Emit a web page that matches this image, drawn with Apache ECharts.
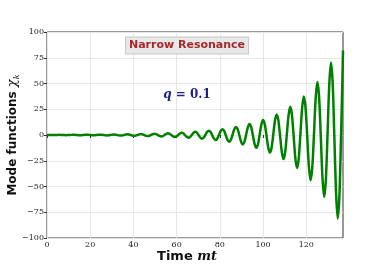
<!DOCTYPE html>
<html>
<head>
<meta charset="utf-8">
<script src="https://cdn.jsdelivr.net/npm/echarts@6/dist/echarts.min.js"></script>
<style>
html,body{margin:0;padding:0;background:#fff;}
#chart{width:382px;height:268px;}
</style>
</head>
<body>
<div id="chart"></div>
<script>
// Time mt (eight samples per oscillation)
const times = [0, 1.02,
  1.80, 2.59, 3.38, 4.16,   4.95, 5.73, 6.52, 7.31,   8.09, 8.88, 9.66, 10.45,   11.23, 12.02, 12.80, 13.59,
  14.37, 15.16, 15.95, 16.73,   17.52, 18.30, 19.09, 19.87,   20.66, 21.44, 22.23, 23.02,   23.80, 24.59, 25.37, 26.16,
  26.94, 27.73, 28.51, 29.30,   30.09, 30.87, 31.66, 32.44,   33.23, 34.01, 34.80, 35.58,   36.37, 37.15, 37.94, 38.72,
  39.51, 40.29, 41.08, 41.87,   42.65, 43.44, 44.22, 45.01,   45.79, 46.58, 47.36, 48.15,   48.94, 49.72, 50.51, 51.29,
  52.08, 52.86, 53.65, 54.43,   55.22, 56.00, 56.79, 57.57,   58.36, 59.14, 59.93, 60.72,   61.50, 62.28, 63.07, 63.86,
  64.64, 65.43, 66.21, 67.00,   67.78, 68.57, 69.36, 70.14,   70.93, 71.71, 72.50, 73.28,   74.07, 74.85, 75.64, 76.42,
  77.21, 77.99, 78.78, 79.56,   80.35, 81.13, 81.92, 82.71,   83.49, 84.28, 85.06, 85.85,   86.63, 87.42, 88.21, 88.99,
  89.78, 90.56, 91.35, 92.13,   92.92, 93.70, 94.49, 95.27,   96.06, 96.84, 97.63, 98.41,   99.20, 99.98, 100.77, 101.56,
  102.34, 103.13, 103.91, 104.70,   105.48, 106.27, 107.06, 107.84,   108.63, 109.41, 110.20, 110.98,   111.77, 112.55, 113.34, 114.12,
  114.91, 115.69, 116.48, 117.26,   118.05, 118.83, 119.62, 120.41,   121.19, 121.98, 122.76, 123.55,   124.33, 125.12, 125.91, 126.69,
  127.48, 128.26, 129.05, 129.83,   130.62, 131.40, 132.19, 132.97,   133.76, 134.54, 135.33, 136.11,
  136.60, 137.00];
// Mode function chi_k at those times
const chi = [0.09, 0,
  -0.076, -0.112, -0.082, 0,   0.089, 0.131, 0.096, 0,   -0.105, -0.154, -0.113, 0,   0.122, 0.180, 0.132, 0,
  -0.143, -0.211, -0.155, 0,   0.167, 0.246, 0.181, 0,   -0.196, -0.288, -0.212, 0,   0.229, 0.337, 0.248, 0,
  -0.268, -0.395, -0.290, 0,   0.314, 0.462, 0.340, 0,   -0.367, -0.540, -0.397, 0,   0.429, 0.632, 0.465, 0,
  -0.502, -0.740, -0.544, 0,   0.588, 0.866, 0.637, 0,   -0.686, -1.01, -0.742, 0,   0.801, 1.18, 0.867, 0,
  -0.944, -1.39, -1.02, 0,   1.10, 1.62, 1.19, 0,   -1.29, -1.90, -1.40, 0,   1.51, 2.22, 1.63, 0,
  -1.77, -2.60, -1.91, 0,   2.06, 3.04, 2.23, 0,   -2.41, -3.55, -2.61, 0,   2.82, 4.16, 3.06, 0,
  -3.31, -4.87, -3.58, 0,   3.86, 5.69, 4.18, 0,   -4.52, -6.66, -4.90, 0,   5.30, 7.80, 5.73, 0,
  -6.19, -9.12, -6.70, 0,   7.25, 10.67, 7.84, 0,   -8.48, -12.49, -9.18, 0,   9.92, 14.61, 10.74, 0,
  -11.61, -17.10, -12.57, 0,   13.59, 20.01, 14.71, 0,   -15.90, -23.41, -17.21, 0,   18.60, 27.39, 20.13, 0,
  -21.76, -32.05, -23.56, 0,   25.46, 37.50, 27.56, 0,   -29.79, -43.88, -32.25, 0,   34.87, 51.35, 37.74, 0,
  -40.79, -60.08, -44.16, 0,   47.73, 70.3, 51.67, 0,   -55.0, -81.0, -59.5, 0,
  42, 82];
const xTicks = [0, 20, 40, 60, 80, 100, 120];
const yTicks = [-100, -75, -50, -25, 0, 25, 50, 75, 100];
const titleText = 'Narrow Resonance';

const chart = echarts.init(document.getElementById('chart'), null, {renderer: 'canvas'});
const data = times.map((t, i) => [t, chi[i]]);
const labelFont = {fontFamily: 'DejaVu Serif', fontSize: 8, color: '#222'};
const fmt = v => String(v).replace('-', '\u2212');

chart.setOption({
  animation: false,
  grid: {left: 47, top: 32, width: 296, height: 206, show: true, borderColor: '#333', borderWidth: 1, backgroundColor: 'transparent'},
  xAxis: {
    type: 'value', min: 0, max: 137,
    axisLine: {show: false},
    axisTick: {show: true, length: 3, lineStyle: {color: '#333'}, customValues: xTicks},
    axisLabel: Object.assign({margin: 3, formatter: fmt, customValues: xTicks}, labelFont),
    splitLine: {show: true, lineStyle: {color: '#e6e6e6', width: 1}},
    splitNumber: 7
  },
  yAxis: {
    type: 'value', min: -100, max: 100, interval: 25,
    axisLine: {show: false},
    axisTick: {show: true, length: 3, lineStyle: {color: '#333'}, customValues: yTicks},
    axisLabel: Object.assign({margin: 3, formatter: fmt, customValues: yTicks}, labelFont),
    splitLine: {show: true, lineStyle: {color: '#e6e6e6', width: 1}}
  },
  series: [{
    type: 'line', data: data, showSymbol: false, symbol: 'none', smooth: 0.3,
    lineStyle: {color: '#008000', width: 2.5}, clip: true
  }],
  graphic: [
    {type: 'text', x: 187, y: 45.5, z: 10, style: {
      text: titleText, align: 'center', verticalAlign: 'middle',
      fontFamily: 'DejaVu Sans', fontWeight: 'bold', fontSize: 11, fill: '#a8282b',
      backgroundColor: '#e8e8e8', borderColor: '#c8c8c8', borderWidth: 1, padding: [3, 3, 2, 3]
    }},
    {type: 'text', x: 187, y: 95, z: 10, style: {
      text: '{q|q}{r| = 0.1}', align: 'center', verticalAlign: 'middle',
      rich: {
        q: {fontFamily: 'DejaVu Serif', fontStyle: 'italic', fontWeight: 'bold', fontSize: 12, fill: '#1f1f8c'},
        r: {fontFamily: 'DejaVu Serif', fontWeight: 'bold', fontSize: 12, fill: '#1f1f8c'}
      }
    }},
    {type: 'text', x: 187, y: 257, z: 10, style: {
      text: '{a|Time }{b|mt}', align: 'center', verticalAlign: 'middle',
      rich: {
        a: {fontFamily: 'DejaVu Sans', fontWeight: 'bold', fontSize: 13, fill: '#111'},
        b: {fontFamily: 'DejaVu Serif', fontStyle: 'italic', fontWeight: 'bold', fontSize: 13, fill: '#111'}
      }
    }},
    {type: 'text', x: 13, y: 135, rotation: Math.PI / 2, z: 10, style: {
      text: '{a|Mode functions }{c|\u03c7}{k|k}', align: 'center', verticalAlign: 'middle',
      rich: {
        a: {fontFamily: 'DejaVu Sans', fontWeight: 'bold', fontSize: 12, fill: '#111'},
        c: {fontFamily: 'DejaVu Serif', fontStyle: 'italic', fontSize: 13, fill: '#111'},
        k: {fontFamily: 'DejaVu Serif', fontStyle: 'italic', fontSize: 8, fill: '#111', padding: [7, 0, 0, 0]}
      }
    }}
  ]
});
</script>
</body>
</html>
